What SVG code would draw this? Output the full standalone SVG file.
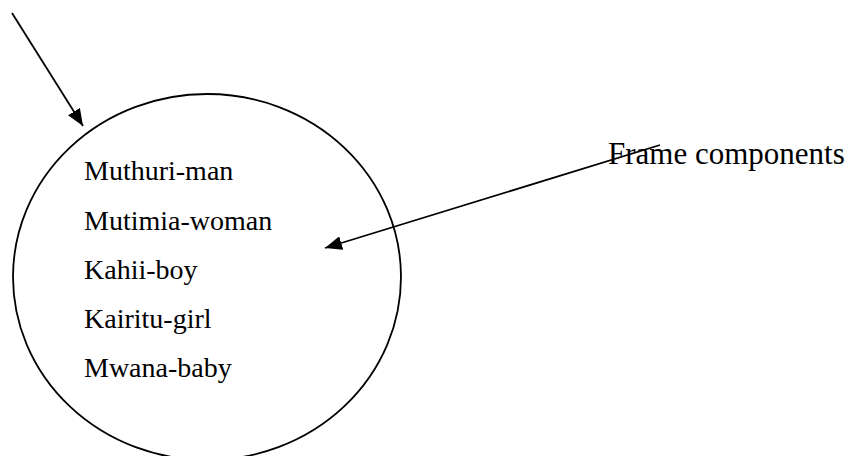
<svg xmlns="http://www.w3.org/2000/svg" width="848" height="456" viewBox="0 0 848 456">
  <style>
    .lbl { font-family: "Liberation Serif", "Times New Roman", serif; fill: #000; }
    .item { font-size: 28px; }
    .note { font-size: 31px; }
    .edge { stroke: #000; stroke-width: 1.8; fill: none; }
  </style>
  <defs>
    <marker id="arrow" markerUnits="userSpaceOnUse" markerWidth="18" markerHeight="14" refX="17" refY="7" orient="auto">
      <path d="M0,0 L17,7 L0,14 Z" fill="#000"/>
    </marker>
  </defs>
  <rect width="848" height="456" fill="#fff"/>

  <g id="frame">
    <ellipse cx="207" cy="277" rx="194" ry="183" fill="none" stroke="#000" stroke-width="1.8"/>
    <text class="lbl item" x="84" y="180">Muthuri-man</text>
    <text class="lbl item" x="84" y="230">Mutimia-woman</text>
    <text class="lbl item" x="84" y="279">Kahii-boy</text>
    <text class="lbl item" x="84" y="328">Kairitu-girl</text>
    <text class="lbl item" x="84" y="377">Mwana-baby</text>
  </g>

  <g id="frame-components">
    <text class="lbl note" x="608" y="164">Frame components</text>
  </g>

  <g id="connectors">
    <line class="edge" x1="12" y1="13" x2="83" y2="126" marker-end="url(#arrow)"/>
    <line class="edge" x1="660" y1="145" x2="325" y2="248" marker-end="url(#arrow)"/>
  </g>
</svg>
